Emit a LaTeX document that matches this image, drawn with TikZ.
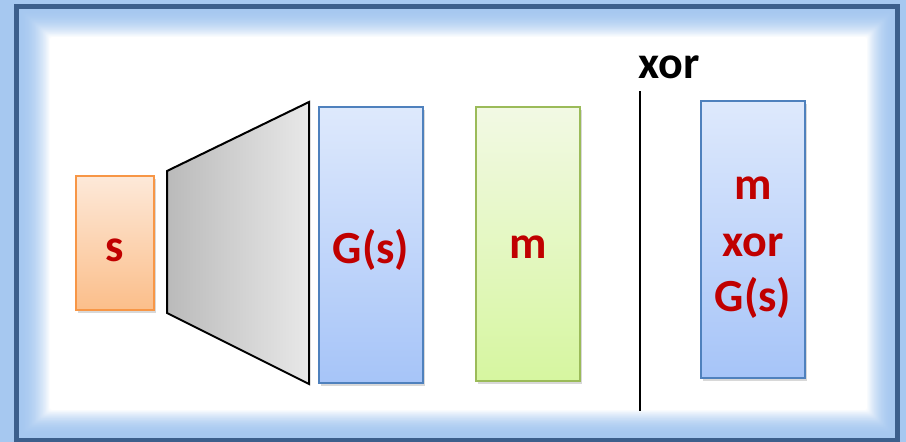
\documentclass[tikz,border=0pt]{standalone}
\usepackage{fontspec}
\setmainfont{Carlito}
\usetikzlibrary{shadows}
\definecolor{lb}{RGB}{166,200,240}
\definecolor{frameblue}{RGB}{60,95,140}
\definecolor{redtxt}{RGB}{192,0,0}
\definecolor{orbord}{RGB}{247,150,70}
\definecolor{ortop}{RGB}{253,233,217}
\definecolor{orbot}{RGB}{251,190,138}
\definecolor{blbord}{RGB}{79,129,189}
\definecolor{bltop}{RGB}{222,233,252}
\definecolor{blbot}{RGB}{166,196,248}
\definecolor{grbord}{RGB}{155,187,89}
\definecolor{grtop}{RGB}{242,249,228}
\definecolor{grbot}{RGB}{214,246,160}
\tikzset{
  boxshadow/.style={drop shadow={shadow xshift=2pt,shadow yshift=-3pt,opacity=0.25,fill=black!60}},
  obox/.style={draw=orbord,line width=1.5pt,top color=ortop,bottom color=orbot,boxshadow,inner sep=0pt},
  bbox/.style={draw=blbord,line width=1.5pt,top color=bltop,bottom color=blbot,boxshadow,inner sep=0pt},
  gbox/.style={draw=grbord,line width=1.5pt,top color=grtop,bottom color=grbot,boxshadow,inner sep=0pt},
  lbl/.style={anchor=base,text=redtxt,font=\fontsize{46}{57}\selectfont\bfseries,inner sep=0pt},
}
\begin{document}
\begin{tikzpicture}[x=1pt,y=-1pt]
\useasboundingbox (0,0) rectangle (906,442);
% background and glow
\fill[lb] (0,0) rectangle (906,442);
\foreach \i in {0,...,40}{
  \pgfmathsetmacro\t{\i/40}
  \pgfmathsetmacro\p{100*(1-\t*\t)}
  \fill[lb!\p!white,rounded corners=2pt] (19+31*\t,9+28*\t) rectangle (895-28*\t,436-26*\t);
}
\draw[frameblue,line width=5pt] (16.5,6.5) rectangle (897,440);
% boxes
\node[obox,minimum width=78pt,minimum height=134pt] (sbox) at (115,243) {};
\node[lbl] (stxt) at (115,261) {s};
\shade[left color=black!27,right color=black!9,draw=black,line width=2pt,line join=miter]
  (167,171) -- (309,102) -- (309,384) -- (167,313) -- cycle;
\node[bbox,minimum width=104pt,minimum height=276pt] (gbox) at (371,245) {};
\node[lbl] (gtxt) at (371,263) {G(s)};
\node[gbox,minimum width=104pt,minimum height=274pt] (mbox) at (528,244) {};
\node[lbl] (mtxt) at (528,258) {m};
\coordinate (ltop) at (640,91);
\coordinate (lbot) at (640,411);
\draw[black,line width=2pt] (ltop) -- (lbot);
\node[lbl,text=black] (xortxt) at (669,78) {xor};
\node[bbox,minimum width=104pt,minimum height=277pt] (rbox) at (753,239.5) {};
\node[lbl] (r1) at (753,199) {m};
\node[lbl] (r2) at (753,256) {xor};
\node[lbl] (r3) at (753,311) {G(s)};
\end{tikzpicture}
\end{document}
